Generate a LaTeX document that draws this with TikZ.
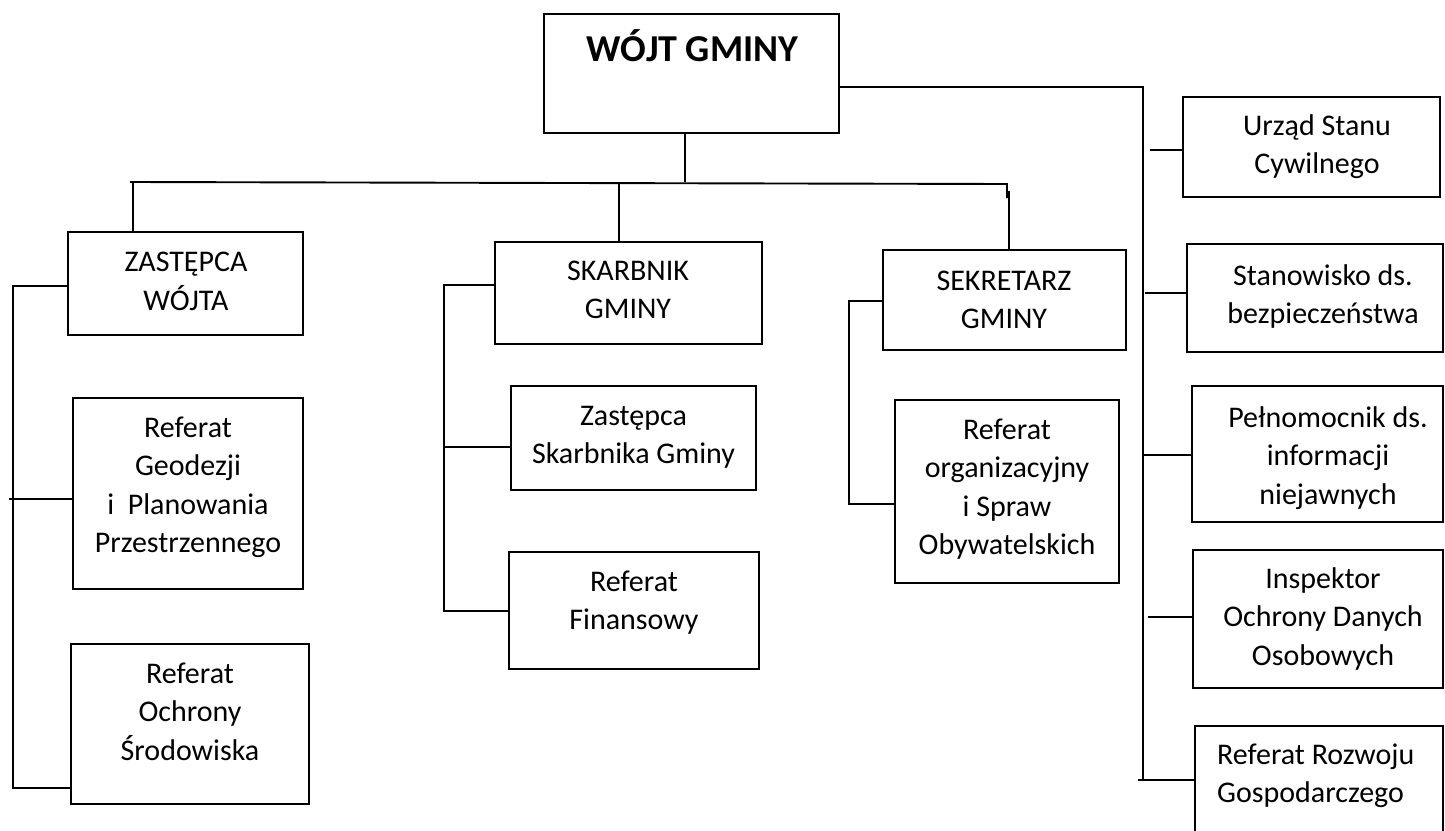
\documentclass[tikz,border=0pt]{standalone}
\usepackage{fontspec}
\setmainfont{Carlito}
\begin{document}
\begin{tikzpicture}[x=1pt,y=-1pt,
  ubox/.style={draw=black,line width=1.9pt,rectangle,inner sep=0pt},
  conn/.style={draw=black,line width=1.9pt,line join=miter},
  txt/.style={align=center,inner sep=0pt,anchor=north,font=\fontsize{30}{38.5}\selectfont},
  txtl/.style={align=left,inner sep=0pt,anchor=north west,font=\fontsize{30}{38.5}\selectfont}]
\useasboundingbox (0,0) rectangle (1445,830);
\fill[white] (0,0) rectangle (1445,830);
\clip (0,0) rectangle (1445,830);

% boxes
\node[ubox,minimum width=295pt,minimum height=119pt] (W)  at (691.5,73.5) {};
\node[ubox,minimum width=235pt,minimum height=103pt] (Z)  at (185.5,283.5) {};
\node[ubox,minimum width=230pt,minimum height=191pt] (G)  at (188,493.5) {};
\node[ubox,minimum width=238pt,minimum height=160pt] (O)  at (190,724) {};
\node[ubox,minimum width=267pt,minimum height=102pt] (SK) at (628.5,293) {};
\node[ubox,minimum width=245pt,minimum height=104pt] (ZS) at (633.5,438) {};
\node[ubox,minimum width=250pt,minimum height=117pt] (F)  at (634,610.5) {};
\node[ubox,minimum width=243pt,minimum height=100pt] (SE) at (1004.5,300) {};
\node[ubox,minimum width=224pt,minimum height=183pt] (RO) at (1007,491.5) {};
\node[ubox,minimum width=257pt,minimum height=100pt] (U)  at (1311.5,147) {};
\node[ubox,minimum width=256pt,minimum height=108pt] (ST) at (1315,298) {};
\node[ubox,minimum width=251pt,minimum height=136pt] (P)  at (1317.5,454) {};
\node[ubox,minimum width=250pt,minimum height=138pt] (I)  at (1318,619) {};
\node[ubox,minimum width=248pt,minimum height=134pt] (RR) at (1319,793) {};

% texts
\node[inner sep=0pt,anchor=base,font=\fontsize{38}{45}\selectfont\bfseries] (tW) at (692.5,61) {WÓJT GMINY};
\node[txt] (tZ)  at (186,244.5) {\strut ZASTĘPCA\\\strut WÓJTA};
\node[txt] (tG)  at (188,410) {\strut Referat\\\strut Geodezji\\\strut i~ Planowania\\\strut Przestrzennego};
\node[txt] (tO)  at (190,656) {\strut Referat\\\strut Ochrony\\\strut Środowiska};
\node[txt] (tSK) at (628,253) {\strut SKARBNIK\\\strut GMINY};
\node[txt] (tZS) at (633.5,398) {\strut Zastępca\\\strut Skarbnika Gminy};
\node[txt] (tF)  at (634,564) {\strut Referat\\\strut Finansowy};
\node[txt] (tSE) at (1004,263) {\strut SEKRETARZ\\\strut GMINY};
\node[txt] (tRO) at (1007,412) {\strut Referat\\\strut organizacyjny\\\strut i Spraw\\\strut Obywatelskich};
\node[txt] (tU)  at (1317,108) {\strut Urząd Stanu\\\strut Cywilnego};
\node[txt] (tST) at (1323,258) {\strut Stanowisko ds.\\\strut bezpieczeństwa};
\node[txt] (tP)  at (1328,400) {\strut Pełnomocnik ds.\\\strut informacji\\\strut niejawnych};
\node[txt] (tI)  at (1323,561) {\strut Inspektor\\\strut Ochrony Danych\\\strut Osobowych};
\node[txtl] (tRR) at (1217,737) {\strut Referat Rozwoju\\\strut Gospodarczego};

% connector points
\coordinate (wd) at (685,182);
\coordinate (bL) at (130,182);
\coordinate (bR) at (1007,184);
\coordinate (bRt) at (1007,198);
\coordinate (sd) at (1009,191);
\coordinate (zd) at (133,183);
\coordinate (kd) at (619,183);
\coordinate (ls0) at (13,286);
\coordinate (ls1) at (13,788);
\coordinate (lg) at (9,499);
\coordinate (ms0) at (444,285);
\coordinate (ms1) at (444,611);
\coordinate (mz) at (444,447);
\coordinate (es0) at (849,301);
\coordinate (es1) at (849,504);
\coordinate (rt) at (1143,87);
\coordinate (rb) at (1143,779);
\coordinate (rrb) at (1138,780);
\coordinate (ru) at (1150,150);
\coordinate (rst) at (1145,293);
\coordinate (rp) at (1143,455);
\coordinate (ri) at (1148,617);

% top level
\draw[conn] (wd |- W.south) -- (wd);
\draw[conn] (bL) -- (bR) -- (bRt);
\draw[conn] (sd) -- (sd |- SE.north);
\draw[conn] (zd) -- (zd |- Z.north);
\draw[conn] (kd) -- (kd |- SK.north);
\draw[conn] (W.east |- rt) -- (rt) -- (rb);

% left group
\draw[conn] (Z.west |- ls0) -- (ls0) -- (ls1) -- (O.west |- ls1);
\draw[conn] (lg) -- (G.west |- lg);

% middle group
\draw[conn] (SK.west |- ms0) -- (ms0) -- (ms1) -- (F.west |- ms1);
\draw[conn] (mz) -- (ZS.west |- mz);

% sekretarz group
\draw[conn] (SE.west |- es0) -- (es0) -- (es1) -- (RO.west |- es1);

% right group
\draw[conn] (ru) -- (U.west |- ru);
\draw[conn] (rst) -- (ST.west |- rst);
\draw[conn] (rp) -- (P.west |- rp);
\draw[conn] (ri) -- (I.west |- ri);
\draw[conn] (rrb) -- (RR.west |- rrb);
\end{tikzpicture}
\end{document}
